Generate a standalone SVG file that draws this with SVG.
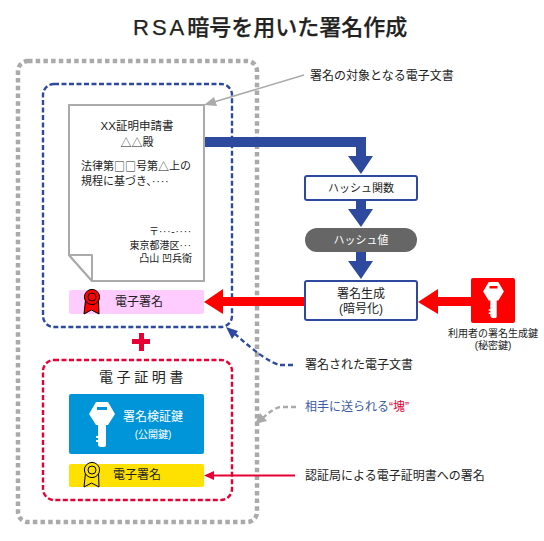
<svg xmlns="http://www.w3.org/2000/svg" width="544" height="541" viewBox="0 0 544 541">
<style>
text{font-family:"Liberation Sans","Noto Sans CJK JP",sans-serif;font-size:12px;fill:#222;dominant-baseline:central}
.m{text-anchor:middle}.e{text-anchor:end}
.s11{font-size:11px}.s10{font-size:10px}.w{fill:#fff}
.c{font-family:"Noto Sans CJK JP",sans-serif}
.d{letter-spacing:.8px}
.box{fill:#fff;stroke:#2e4a9e;stroke-width:2}
.blue{fill:#2e4a9e}.red{fill:#f00}
</style>
<defs>
<path id="key" fill-rule="evenodd" d="M-6 0H6L13 12 6 23H4V43Q4 45 2 45H-1Q-4 45-4 42V40H-6V38H-4V36H-6V34H-4V23H-6L-13 12ZM-5 5V8H5V5Z"/>
<g id="medal" stroke="#000" stroke-width="1"><path d="M-6.500 11L-8 25-0.500 21 7 25 6.500 11Z"/><circle cx="0" cy="8" r="7.600"/><circle cx="0" cy="8" r="4" fill="none"/></g>
</defs>
<rect width="544" height="541" fill="#fff"/>
<text id="title" x="133" y="27" style="font-size:22px;font-weight:500;stroke:#222;stroke-width:.25px"><tspan style="letter-spacing:3px">RSA</tspan>暗号を用いた署名作成</text>
<g id="group-sent"><rect x="18" y="61" width="239" height="461" rx="10" fill="none" stroke="#aaa" stroke-width="4.500" stroke-dasharray="4.500 3.200"/></g>
<g id="group-document"><rect x="43" y="84" width="189" height="243" rx="11" fill="none" stroke="#2e4a9e" stroke-width="2.400" stroke-dasharray="5 2.500"/></g>
<g id="group-certificate"><rect x="43" y="360" width="189" height="140" rx="11" fill="none" stroke="#e60033" stroke-width="2.400" stroke-dasharray="5 2.500"/><text x="143" y="377" class="m" style="font-size:14px;letter-spacing:3.600px">電子証明書</text></g>
<g id="connectors">
<path d="M304 75L214 102" stroke="#aaa" stroke-width="1.500" fill="none"/><path d="M204 105L214 97 217 106Z" fill="#aaa"/>
<path class="blue" d="M205 137H366V156H373L361 174 348 156H356V147H205Z"/>
<path class="blue" d="M356 200H366V209H373L361 227 348 209H356Z"/>
<path class="blue" d="M356 252H366V261H373L361 279 348 261H356Z"/>
<path class="red" d="M305 297V306H223V314L204 302 223 289V297Z"/>
<path class="red" d="M471 297V306H438V314L418 302 438 289V297Z"/>
<path d="M293 365H280Q266 362 234 333" fill="none" stroke="#2e4a9e" stroke-width="2.400" stroke-dasharray="5 3"/><path d="M226 327L238 331 232 339Z" fill="#2e4a9e"/>
<path d="M296 407H282Q274 407 262 419" fill="none" stroke="#aaa" stroke-width="2.400" stroke-dasharray="5 3"/><path d="M255 424L260 413 267 421Z" fill="#aaa"/>
<path d="M295 475.500H212" stroke="#e60033" stroke-width="2" fill="none"/><path d="M204 475.500L214 471V480Z" fill="#e60033"/>
</g>
<g id="document"><path d="M69 105H204V281H92L69 255Z" fill="#fff" stroke="#aaa" stroke-width="2"/><path d="M69 255H92V281Z" fill="#fff" stroke="#aaa" stroke-width="2" stroke-linejoin="round"/>
<text x="137" y="126" class="m" style="font-size:11.500px">XX証明申請書</text>
<text x="137" y="142" class="m s11"><tspan class="c">△△</tspan>殿</text>
<text x="81" y="166" class="s11">法律第<tspan class="c">□□</tspan>号第<tspan class="c">△</tspan>上の</text>
<text x="81" y="181" class="s11">規程に基づき、<tspan class="d">····</tspan></text>
<text x="192" y="231" class="e s10">〒<tspan class="d">···-····</tspan></text>
<text x="192" y="245" class="e s10">東京都港区<tspan class="d">···</tspan></text>
<text x="192" y="258" class="e s10">凸山 凹兵衛</text></g>
<g id="signature-document"><rect x="69" y="290" width="135" height="24" rx="2" fill="#fcf"/><use href="#medal" x="92" y="289" fill="#f00"/><text x="115" y="302">電子署名</text></g>
<g id="plus"><path d="M132 339H150V344H132ZM139 333H144V351H139Z" fill="#e60033"/></g>
<g id="verify-key"><rect x="69" y="394" width="135" height="60" rx="2" fill="#0095d9"/><use href="#key" x="102" y="402" fill="#fff"/><text x="153" y="417" class="m w">署名検証鍵</text><text x="153" y="434" class="m w s10">(公開鍵)</text></g>
<g id="signature-certificate"><rect x="69" y="464" width="135" height="23" rx="2" fill="#ffe100"/><use href="#medal" x="92" y="462" fill="#ffe100"/><text x="137" y="475" class="m">電子署名</text></g>
<g id="hash-function"><rect class="box" x="305" y="176" width="112" height="24" rx="2"/><text x="361" y="188" class="m s11">ハッシュ関数</text></g>
<g id="hash-value"><rect x="305" y="228" width="112" height="24" rx="12" fill="#666"/><text x="361" y="240" class="m w s11">ハッシュ値</text></g>
<g id="sign-generate"><rect class="box" x="305" y="281" width="112" height="39" rx="2"/><text x="361" y="294" class="m">署名生成</text><text x="361" y="309" class="m">(暗号化)</text></g>
<g id="private-key"><rect x="471" y="278" width="44" height="45" rx="2" fill="#f00"/><use href="#key" transform="translate(493.500 282) scale(.8)" fill="#fff"/><text x="493" y="333" class="m s10">利用者の署名生成鍵</text><text x="493" y="345" class="m s10">(秘密鍵)</text></g>
<g id="labels">
<text x="310" y="76">署名の対象となる電子文書</text>
<text x="305" y="365">署名された電子文書</text>
<text x="305" y="407" style="fill:#3d5aa8">相手に送られる<tspan style="fill:#e60033">“塊”</tspan></text>
<text x="305" y="476">認証局による電子証明書への署名</text>
</g>
</svg>
